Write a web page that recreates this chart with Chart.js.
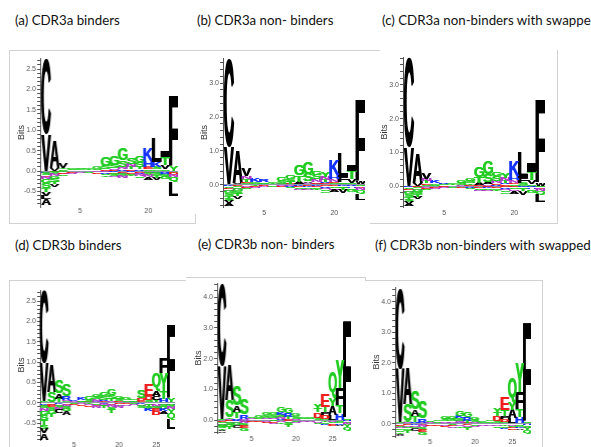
<!DOCTYPE html>
<html lang="en">
<head>
<meta charset="UTF-8">
<title>CDR3 logos</title>
<script src="https://cdn.jsdelivr.net/npm/chart.js"></script>
<style>
  body { margin: 0; width: 591px; height: 447px; overflow: hidden; background: #fff; position: relative; }
  .title { position: absolute; font-family: Lato, sans-serif; font-size: 13.3px; line-height: 17px; color: #111; white-space: nowrap; }
  .line { position: absolute; background: #d2d2d2; }
  canvas { position: absolute; }
</style>
</head>
<body>
<div class="title" style="left:15px;top:12px">(a) CDR3a binders</div>
<div class="title" style="left:197px;top:12px">(b) CDR3a non- binders</div>
<div class="title" style="left:382px;top:12px">(c) CDR3a non-binders with swapped</div>
<div class="title" style="left:15px;top:237px">(d) CDR3b binders</div>
<div class="title" style="left:198px;top:236px">(e) CDR3b non- binders</div>
<div class="title" style="left:375px;top:237px">(f) CDR3b non-binders with swapped</div>

<div class="line" style="left:9px;top:50px;width:371px;height:1px"></div>
<div class="line" style="left:9px;top:50px;width:1px;height:173px"></div>
<div class="line" style="left:9px;top:223px;width:186px;height:1px"></div>
<div class="line" style="left:195px;top:214px;width:1px;height:10px"></div>
<div class="line" style="left:557px;top:50px;width:1px;height:173px"></div>
<div class="line" style="left:370px;top:223px;width:188px;height:1px"></div>
<div class="line" style="left:9px;top:280px;width:177px;height:1px"></div>
<div class="line" style="left:9px;top:280px;width:1px;height:167px"></div>
<div class="line" style="left:186px;top:277px;width:179px;height:1px"></div>
<div class="line" style="left:365px;top:277px;width:1px;height:4px"></div>
<div class="line" style="left:365px;top:280px;width:177px;height:1px"></div>
<div class="line" style="left:542px;top:280px;width:1px;height:167px"></div>

<canvas id="logoA"></canvas>
<canvas id="logoB"></canvas>
<canvas id="logoC"></canvas>
<canvas id="logoD"></canvas>
<canvas id="logoE"></canvas>
<canvas id="logoF"></canvas>

<script>
// x tick labels (column index -> printed position number)
const alphaTickCols = [5, 13];
const alphaTickText = ['5', '20'];
const betaTickCols = [5, 11, 16];
const betaTickText = ['5', '20', '25'];

// (a) CDR3a binders: letters above zero (bottom -> top) and below zero (top -> bottom)
const aUpLetters = ['VC', 'VA', 'STV', 'RSG', 'KGS', 'STG', 'NSG', 'ESG', 'ENSG', 'RNSG', 'ETNS', 'RTSG', 'SEHK', 'GSKL', 'SVTI', 'YF'];
const aUpBits = [[0.9, 1.85], [0.08, 0.66], [0.04, 0.04, 0.12], [0.02, 0.03, 0.03], [0.02, 0.02, 0.03], [0.02, 0.02, 0.03], [0.02, 0.03, 0.06], [0.04, 0.08, 0.23], [0.03, 0.04, 0.08, 0.23], [0.04, 0.06, 0.16, 0.3], [0.04, 0.06, 0.08, 0.17], [0.04, 0.06, 0.12, 0.15], [0.05, 0.06, 0.14, 0.3], [0.04, 0.06, 0.12, 0.6], [0.04, 0.1, 0.2, 0.16], [0.12, 1.73]];
const aDnLetters = ['KSENGSTVLA', 'ESNGSTV', 'GNES', 'TEN', 'DN', 'ES', 'NE', 'NRST', 'KESN', 'EKSN', 'KEST', 'DRNS', 'ESNA', 'KSTV', 'RHSG', 'SDNQL'];
const aDnBits = [[0.04, 0.06, 0.04, 0.05, 0.1, 0.12, 0.1, 0.1, 0.08, 0.14], [0.03, 0.05, 0.05, 0.06, 0.08, 0.05, 0.06], [0.03, 0.03, 0.02, 0.03], [0.02, 0.02, 0.02], [0.02, 0.02], [0.02, 0.02], [0.03, 0.03], [0.03, 0.03, 0.04, 0.04], [0.03, 0.03, 0.05, 0.04], [0.04, 0.04, 0.05, 0.05], [0.03, 0.03, 0.03, 0.03], [0.04, 0.04, 0.05, 0.04], [0.04, 0.05, 0.05, 0.07], [0.04, 0.06, 0.06, 0.06], [0.04, 0.05, 0.06, 0.05], [0.04, 0.05, 0.06, 0.12, 0.33]];

// (b) CDR3a non-binders
const bUpLetters = ['VC', 'VA', 'SETNV', 'SGK', 'GSR', 'STG', 'NSG', 'ETSG', 'EATG', 'NASG', 'RENSG', 'ERTNY', 'SENHK', 'GSFL', 'SVTI', 'WF'];
const bUpBits = [[1.1, 2.6], [0.06, 0.94], [0.05, 0.05, 0.08, 0.07, 0.22], [0.05, 0.05, 0.1], [0.04, 0.05, 0.06], [0.03, 0.03, 0.04], [0.04, 0.06, 0.1], [0.03, 0.06, 0.07, 0.1], [0.03, 0.06, 0.2, 0.3], [0.05, 0.05, 0.22, 0.35], [0.04, 0.04, 0.08, 0.14, 0.12], [0.05, 0.03, 0.06, 0.1, 0.14], [0.05, 0.05, 0.08, 0.12, 0.45], [0.04, 0.05, 0.15, 0.7], [0.05, 0.12, 0.25, 0.2], [0.08, 2.42]];
const bDnLetters = ['KSENGSTSVA', 'ESNGSTV', 'GNES', 'TEN', 'DN', 'ES', 'NE', 'NRS', 'KESN', 'EKSN', 'KEST', 'DRNSG', 'ESNA', 'KSTV', 'RHSG', 'SDNQL'];
const bDnBits = [[0.04, 0.05, 0.04, 0.05, 0.06, 0.08, 0.08, 0.08, 0.06, 0.08], [0.03, 0.04, 0.05, 0.06, 0.08, 0.07, 0.07], [0.03, 0.03, 0.03, 0.04], [0.03, 0.02, 0.03], [0.03, 0.03], [0.02, 0.03], [0.03, 0.03], [0.03, 0.03, 0.04], [0.03, 0.04, 0.04, 0.04], [0.03, 0.04, 0.05, 0.04], [0.03, 0.04, 0.04, 0.05], [0.04, 0.04, 0.05, 0.05, 0.05], [0.04, 0.05, 0.05, 0.08], [0.04, 0.05, 0.06, 0.1], [0.04, 0.05, 0.05, 0.06], [0.04, 0.05, 0.06, 0.1, 0.2]];

// (c) CDR3a non-binders with swapped
const cUpLetters = ['VC', 'VA', 'SETNV', 'SGK', 'GSR', 'STG', 'NSG', 'ETSG', 'EATG', 'NASG', 'RENSG', 'ERTNY', 'SENHK', 'GSFL', 'SVTI', 'WF'];
const cUpBits = [[1.15, 2.65], [0.1, 0.9], [0.04, 0.05, 0.07, 0.06, 0.2], [0.04, 0.05, 0.09], [0.03, 0.04, 0.05], [0.03, 0.04, 0.05], [0.04, 0.06, 0.08], [0.03, 0.05, 0.06, 0.08], [0.03, 0.06, 0.18, 0.3], [0.05, 0.06, 0.24, 0.37], [0.04, 0.04, 0.08, 0.14, 0.12], [0.05, 0.04, 0.06, 0.1, 0.15], [0.05, 0.05, 0.08, 0.12, 0.47], [0.04, 0.06, 0.15, 0.77], [0.05, 0.12, 0.26, 0.25], [0.08, 2.47]];
const cDnLetters = ['KSENGSTSVA', 'ESNGSTV', 'GNES', 'TEN', 'DN', 'ES', 'NE', 'NRS', 'KESN', 'EKSN', 'KEST', 'DRNSG', 'ESNA', 'KSTV', 'RHSG', 'SDNQL'];
const cDnBits = [[0.04, 0.05, 0.04, 0.05, 0.06, 0.08, 0.08, 0.08, 0.06, 0.06], [0.03, 0.04, 0.05, 0.06, 0.07, 0.06, 0.06], [0.03, 0.03, 0.03, 0.04], [0.03, 0.02, 0.03], [0.03, 0.03], [0.02, 0.03], [0.03, 0.03], [0.03, 0.03, 0.04], [0.03, 0.04, 0.04, 0.04], [0.03, 0.04, 0.05, 0.04], [0.03, 0.04, 0.04, 0.05], [0.04, 0.04, 0.05, 0.05, 0.05], [0.04, 0.05, 0.05, 0.08], [0.04, 0.05, 0.06, 0.1], [0.04, 0.05, 0.05, 0.06], [0.04, 0.05, 0.06, 0.1, 0.22]];

// (d) CDR3b binders
const dUpLetters = ['GVC', 'SA', 'TAS', 'GNRS', 'TNK', 'SGK', 'ESG', 'RNSG', 'ERSG', 'NTSG', 'ESG', 'NSG', 'TSG', 'EDS', 'SDE', 'YCAQ', 'HTYF', 'YF'];
const dUpBits = [[0.05, 0.93, 1.78], [0.27, 0.68], [0.1, 0.13, 0.32], [0.04, 0.04, 0.08, 0.3], [0.02, 0.02, 0.04], [0.03, 0.03, 0.05], [0.03, 0.05, 0.08], [0.03, 0.06, 0.06, 0.07], [0.04, 0.04, 0.08, 0.08], [0.04, 0.06, 0.1, 0.16], [0.04, 0.06, 0.07], [0.03, 0.04, 0.05], [0.03, 0.03, 0.04], [0.05, 0.07, 0.2], [0.06, 0.1, 0.27], [0.08, 0.1, 0.12, 0.43], [0.1, 0.18, 0.45, 0.38], [0.1, 1.8]];
const dDnLetters = ['KESNGSTSVA', 'NESGT', 'KESNC', 'DNSGA', 'SE', 'NE', 'TNE', 'SEN', 'KNT', 'ENST', 'DSN', 'EN', 'SN', 'KNS', 'NTSK', 'HNSED', 'NSGKA', 'HSNYQL'];
const dDnBits = [[0.04, 0.04, 0.05, 0.06, 0.1, 0.12, 0.12, 0.1, 0.12, 0.15], [0.05, 0.05, 0.07, 0.1, 0.08], [0.03, 0.04, 0.05, 0.05, 0.08], [0.04, 0.05, 0.06, 0.06, 0.09], [0.03, 0.03], [0.03, 0.04], [0.03, 0.03, 0.04], [0.04, 0.04, 0.05], [0.03, 0.05, 0.05], [0.04, 0.06, 0.07, 0.08], [0.03, 0.04, 0.05], [0.03, 0.04], [0.03, 0.03], [0.03, 0.04, 0.05], [0.04, 0.05, 0.06, 0.05], [0.04, 0.05, 0.06, 0.06, 0.08], [0.04, 0.05, 0.05, 0.05, 0.07], [0.04, 0.05, 0.06, 0.1, 0.15, 0.25]];

// (e) CDR3b non-binders
const eUpLetters = ['SVC', 'NTSA', 'RTAS', 'NRS', 'TNS', 'ESG', 'RNSG', 'ENSG', 'RNSKG', 'ETRG', 'NSG', 'TSG', 'ESG', 'SDTY', 'GDPTE', 'LAYQ', 'HTFY', 'SF'];
const eUpBits = [[0.05, 1.7, 2.65], [0.05, 0.05, 0.55, 1.15], [0.06, 0.2, 0.22, 0.62], [0.04, 0.14, 0.52], [0.03, 0.03, 0.04], [0.03, 0.05, 0.06], [0.03, 0.05, 0.07, 0.09], [0.03, 0.05, 0.07, 0.09], [0.04, 0.06, 0.08, 0.07, 0.18], [0.04, 0.06, 0.12, 0.16], [0.05, 0.08, 0.09], [0.03, 0.04, 0.04], [0.03, 0.05, 0.05], [0.08, 0.17, 0.12, 0.15], [0.05, 0.1, 0.1, 0.19, 0.4], [0.18, 0.28, 0.25, 0.85], [0.22, 0.26, 0.56, 0.92], [0.05, 3.15]];
const eDnLetters = ['KESNGSTVA', 'ENSGT', 'KNGC', 'DNSEG', 'SE', 'NE', 'TNE', 'SEN', 'KNT', 'ENST', 'DSN', 'EN', 'SN', 'KNS', 'NTSK', 'HNSED', 'NSGKA', 'HSNYQ'];
const eDnBits = [[0.03, 0.03, 0.04, 0.05, 0.06, 0.06, 0.05, 0.04, 0.05], [0.04, 0.05, 0.06, 0.06, 0.08], [0.04, 0.05, 0.06, 0.1], [0.05, 0.06, 0.08, 0.08, 0.1], [0.03, 0.03], [0.03, 0.04], [0.03, 0.03, 0.04], [0.04, 0.04, 0.04], [0.03, 0.04, 0.05], [0.04, 0.05, 0.06, 0.06], [0.03, 0.04, 0.04], [0.03, 0.03], [0.03, 0.03], [0.03, 0.05, 0.05], [0.03, 0.04, 0.05, 0.05], [0.03, 0.04, 0.04, 0.04, 0.05], [0.03, 0.04, 0.04, 0.04, 0.05], [0.04, 0.05, 0.06, 0.08, 0.12]];

// (f) CDR3b non-binders with swapped
const fUpLetters = ['SVC', 'NTSA', 'RTAS', 'NRS', 'TNS', 'ESG', 'RNSG', 'ENSG', 'RNSKG', 'ETRG', 'NSG', 'TSG', 'ESG', 'SDTY', 'GDPTE', 'LAYQ', 'HTFY', 'SF'];
const fUpBits = [[0.05, 1.75, 2.65], [0.05, 0.05, 0.55, 1.18], [0.06, 0.2, 0.22, 0.62], [0.04, 0.14, 0.55], [0.03, 0.03, 0.04], [0.03, 0.05, 0.06], [0.03, 0.05, 0.07, 0.09], [0.03, 0.05, 0.07, 0.09], [0.04, 0.06, 0.08, 0.07, 0.17], [0.04, 0.06, 0.12, 0.18], [0.05, 0.08, 0.09], [0.03, 0.04, 0.04], [0.03, 0.05, 0.05], [0.08, 0.17, 0.12, 0.15], [0.05, 0.1, 0.1, 0.2, 0.4], [0.18, 0.28, 0.25, 0.84], [0.22, 0.26, 0.56, 0.95], [0.05, 3.25]];
const fDnLetters = ['KESNGSTVA', 'ENSGT', 'KNGC', 'DNSEG', 'SE', 'NE', 'TNE', 'SEN', 'KNT', 'ENST', 'DSN', 'EN', 'SN', 'KNS', 'NTSK', 'HNSED', 'NSGKA', 'HSNYQ'];
const fDnBits = [[0.03, 0.03, 0.04, 0.05, 0.06, 0.06, 0.05, 0.04, 0.05], [0.04, 0.05, 0.06, 0.06, 0.08], [0.04, 0.05, 0.06, 0.1], [0.05, 0.06, 0.08, 0.08, 0.1], [0.03, 0.03], [0.03, 0.04], [0.03, 0.03, 0.04], [0.04, 0.04, 0.04], [0.03, 0.04, 0.05], [0.04, 0.05, 0.06, 0.06], [0.03, 0.04, 0.04], [0.03, 0.03], [0.03, 0.03], [0.03, 0.05, 0.05], [0.03, 0.04, 0.05, 0.05], [0.03, 0.04, 0.04, 0.04, 0.05], [0.03, 0.04, 0.04, 0.04, 0.05], [0.04, 0.05, 0.05, 0.07, 0.1]];

// residue colours
function letterColor(ch) {
  if ('DE'.includes(ch)) return '#ee1c1c';
  if ('KRH'.includes(ch)) return '#1433ff';
  if ('GSTYQ'.includes(ch)) return '#22cc22';
  if ('N'.includes(ch)) return '#b23cc8';
  return '#000';
}

const glyphFont = 'bold 100px "Liberation Sans", Arial, sans-serif';
const glyphCache = {};
function drawGlyph(ctx, ch, x, y, w, h) {
  ctx.font = glyphFont;
  if (!glyphCache[ch]) glyphCache[ch] = ctx.measureText(ch);
  const m = glyphCache[ch];
  const gw = m.actualBoundingBoxLeft + m.actualBoundingBoxRight;
  const gh = m.actualBoundingBoxAscent + m.actualBoundingBoxDescent;
  // two passes, slightly offset, to give the heavy look of the logo letters
  [-0.35, 0.35].forEach(dx => {
    ctx.save();
    ctx.font = glyphFont;
    ctx.translate(x + dx, y);
    ctx.scale(w / gw, h / gh);
    ctx.fillStyle = letterColor(ch);
    ctx.textAlign = 'left';
    ctx.textBaseline = 'alphabetic';
    ctx.fillText(ch, m.actualBoundingBoxLeft, m.actualBoundingBoxAscent);
    ctx.restore();
  });
}

// draws each stacked bar segment as its residue letter
const glyphPlugin = {
  id: 'glyphs',
  afterDatasetsDraw(chart) {
    const ctx = chart.ctx;
    chart.data.datasets.forEach((ds, di) => {
      const meta = chart.getDatasetMeta(di);
      meta.data.forEach((bar, j) => {
        const p = bar.getProps(['x', 'y', 'base', 'width'], true);
        const top = Math.min(p.y, p.base);
        const h = Math.abs(p.base - p.y);
        if (h < 0.3) return;
        const gw = p.width * 1.1;
        drawGlyph(ctx, ds.letters[j], p.x - gw / 2, top, gw, h);
      });
    });
  }
};

function buildDatasets(upL, upH, dnL, dnH) {
  const sets = [];
  const addLevels = (letters, bits, sign) => {
    const depth = Math.max(...letters.map(s => s.length));
    for (let k = 0; k < depth; k++) {
      const data = [], lts = [];
      letters.forEach((s, i) => {
        if (k < s.length) {
          data.push({x: i + 1, y: sign * bits[i][k]});
          lts.push(s[k]);
        }
      });
      sets.push({data, letters: lts, backgroundColor: 'rgba(0,0,0,0)', borderWidth: 0,
        barPercentage: 1, categoryPercentage: 1});
    }
  };
  addLevels(upL, upH, 1);
  addLevels(dnL, dnH, -1);
  return sets;
}

const yAxisWidth = 24;
const xAxisHeight = 14;

function makeLogo(id, box, sets, tickCols, tickText) {
  const canvas = document.getElementById(id);
  const w = box.right - box.axisX + yAxisWidth;
  const h = box.bottom - box.top + xAxisHeight;
  canvas.style.left = (box.axisX - yAxisWidth) + 'px';
  canvas.style.top = box.top + 'px';
  canvas.style.width = w + 'px';
  canvas.style.height = h + 'px';
  canvas.width = w;
  canvas.height = h;
  new Chart(canvas.getContext('2d'), {
    type: 'bar',
    data: {datasets: sets},
    options: {
      responsive: false,
      animation: false,
      events: [],
      layout: {padding: 0},
      plugins: {legend: {display: false}, tooltip: {enabled: false}},
      scales: {
        x: {
          type: 'linear',
          stacked: true,
          offset: false,
          min: box.xmin,
          max: box.xmax,
          grid: {display: false, drawTicks: false, offset: false},
          border: {display: false},
          afterBuildTicks: s => { s.ticks = tickCols.map(v => ({value: v})); },
          afterFit: s => { s.height = xAxisHeight; s.paddingLeft = 0; s.paddingRight = 0; },
          ticks: {
            autoSkip: false,
            maxRotation: 0,
            padding: box.labelPad,
            color: '#555',
            font: {family: 'Liberation Sans', size: 7},
            callback: v => tickText[tickCols.indexOf(v)]
          }
        },
        y: {
          stacked: true,
          min: box.ymin,
          max: box.ymax,
          border: {display: true, color: '#555', width: 1},
          grid: {
            drawOnChartArea: true,
            color: c => (c.tick && Math.abs(c.tick.value) < 1e-9) ? '#8d97a8' : 'rgba(0,0,0,0)',
            tickColor: '#555',
            tickLength: 3,
            lineWidth: 1
          },
          afterFit: s => { s.width = yAxisWidth; s.paddingTop = 0; s.paddingBottom = 0; },
          title: {display: true, text: 'Bits', color: '#333', padding: 0,
            font: {family: 'Liberation Sans', size: 9}},
          ticks: {
            stepSize: box.minor,
            includeBounds: false,
            autoSkip: false,
            padding: 1,
            color: '#555',
            font: {family: 'Liberation Sans', size: 7},
            callback: v => {
              const r = v / box.major;
              return Math.abs(r - Math.round(r)) < 1e-6 ? v.toFixed(1) : '';
            }
          }
        }
      }
    },
    plugins: [glyphPlugin]
  });
}

makeLogo('logoA', {axisX: 40, right: 177.75, top: 58, bottom: 207, xmin: 0.294, xmax: 16.5, ymin: -0.88, ymax: 2.77, major: 0.5, minor: 0.1, labelPad: 0},
  buildDatasets(aUpLetters, aUpBits, aDnLetters, aDnBits), alphaTickCols, alphaTickText);
makeLogo('logoB', {axisX: 223, right: 365.4, top: 58, bottom: 207, xmin: 0.318, xmax: 16.5, ymin: -0.65, ymax: 3.74, major: 1, minor: 0.2, labelPad: 2},
  buildDatasets(bUpLetters, bUpBits, bDnLetters, bDnBits), alphaTickCols, alphaTickText);
makeLogo('logoC', {axisX: 403, right: 545.4, top: 57, bottom: 207, xmin: 0.318, xmax: 16.5, ymin: -0.62, ymax: 3.83, major: 1, minor: 0.2, labelPad: 2},
  buildDatasets(cUpLetters, cUpBits, cDnLetters, cDnBits), alphaTickCols, alphaTickText);
makeLogo('logoD', {axisX: 40, right: 174.7, top: 290, bottom: 440, xmin: 0.465, xmax: 18.5, ymin: -0.91, ymax: 2.77, major: 0.5, minor: 0.1, labelPad: 1},
  buildDatasets(dUpLetters, dUpBits, dDnLetters, dDnBits), betaTickCols, betaTickText);
makeLogo('logoE', {axisX: 217, right: 350.6, top: 283, bottom: 433, xmin: 0.32, xmax: 18.5, ymin: -0.42, ymax: 4.46, major: 1, minor: 0.2, labelPad: 2},
  buildDatasets(eUpLetters, eUpBits, eDnLetters, eDnBits), betaTickCols, betaTickText);
makeLogo('logoF', {axisX: 395, right: 530.7, top: 287, bottom: 437, xmin: 0.33, xmax: 18.5, ymin: -0.43, ymax: 4.49, major: 1, minor: 0.2, labelPad: 1},
  buildDatasets(fUpLetters, fUpBits, fDnLetters, fDnBits), betaTickCols, betaTickText);
</script>
</body>
</html>
